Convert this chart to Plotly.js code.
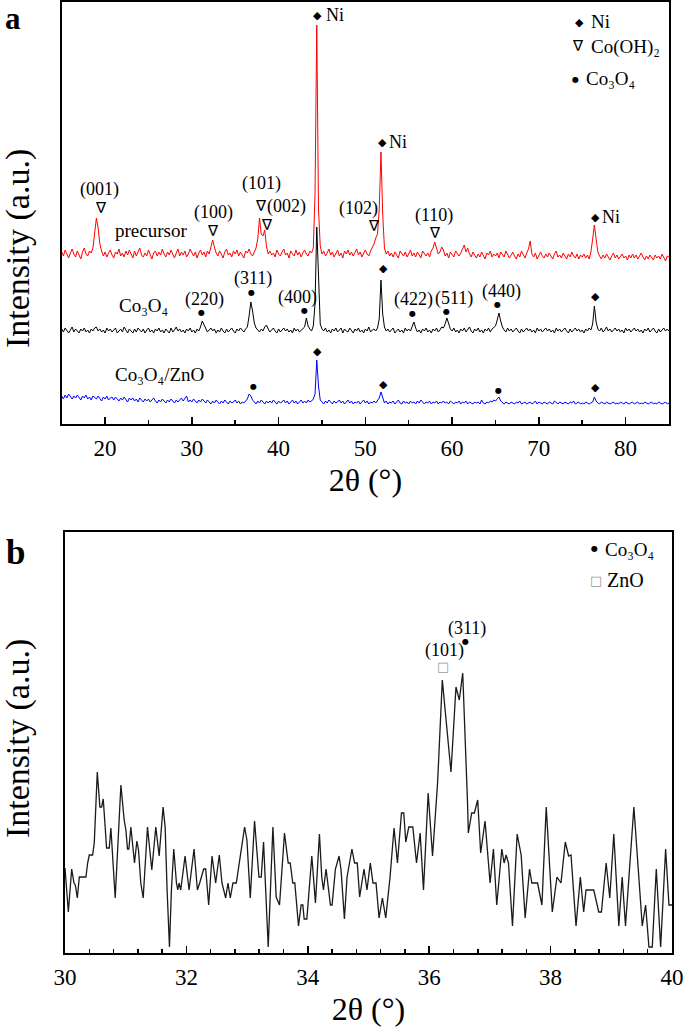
<!DOCTYPE html>
<html>
<head>
<meta charset="utf-8">
<script src="https://cdn.plot.ly/plotly-3.0.1.min.js"></script>
<style>html,body{margin:0;padding:0;background:#fff;}#chart{width:685px;height:1030px;}</style>
</head>
<body>
<div id="chart"></div>
<script>
// ---------- Panel a: XRD scans, 2θ = 15° … 85°, step 0.2° (intensity in arbitrary units) ----------
const scanStart = 15;
const scanStep = 0.2;

const precursor = [
172,168,174,169,166,171,175,170,167,173,
169,165,172,176,170,168,173,171,176,192,
206,196,180,173,168,172,167,171,174,169,
166,172,170,175,168,171,167,173,169,174,
170,166,173,168,172,176,169,167,171,168,
174,170,165,171,173,168,172,169,175,170,
167,172,169,174,170,166,171,175,168,172,
169,173,167,170,175,171,168,172,166,171,
174,169,172,167,173,170,176,184,177,171,
168,173,170,166,172,175,169,171,167,173,
170,174,168,172,169,166,173,171,175,170,
168,172,176,185,206,190,188,194,178,170,
173,169,171,167,174,170,168,172,175,169,
171,166,173,170,168,174,169,172,167,171,
174,170,168,173,171,176,230,399,215,178,
170,173,168,171,175,169,172,167,170,174,
168,171,166,173,170,174,169,172,168,171,
175,169,172,167,171,174,170,168,173,176,
180,186,190,215,272,210,176,170,173,168,
171,167,172,169,166,173,170,168,172,167,
170,174,168,171,167,172,169,166,173,170,
168,171,167,173,176,182,177,170,172,177,
174,168,171,166,172,169,167,173,170,168,
171,175,179,172,176,170,167,172,169,166,
170,167,172,168,165,171,169,173,167,170,
168,171,166,172,169,167,173,170,166,169,
172,168,165,170,167,173,169,166,171,175,
183,170,167,171,165,169,172,168,166,170,
167,171,168,165,170,173,167,169,166,171,
168,165,170,167,172,168,166,170,165,169,
167,170,166,169,165,172,185,199,185,172,
168,165,169,166,170,167,164,168,171,166,
169,165,167,170,166,168,164,169,166,170,
166,169,165,168,171,167,164,168,165,169,
167,164,169,166,168,165,170,166,163,168,
167];

const co3o4 = [
95,92,96,93,91,94,97,92,95,93,
91,95,93,96,92,94,91,95,93,96,
97,93,95,92,94,91,96,93,95,92,
94,96,91,93,95,92,97,94,91,95,
93,91,95,92,96,94,92,95,91,94,
96,92,94,91,95,93,96,92,94,91,
95,93,91,96,92,94,97,93,95,92,
94,91,95,93,96,92,94,91,95,93,
97,103,99,95,92,94,96,93,95,91,
94,92,96,93,91,95,92,94,96,93,
91,95,93,96,94,92,95,97,108,122,
113,101,96,94,92,95,93,97,99,95,
92,94,96,93,91,95,92,94,96,93,
95,92,94,91,96,93,95,92,94,96,
97,106,98,95,93,98,120,197,140,100,
95,93,96,92,94,91,95,93,96,92,
94,96,91,95,93,92,96,94,91,95,
93,96,92,94,91,95,93,97,92,94,
95,93,96,105,144,110,97,93,95,92,
94,96,91,93,95,92,94,91,96,93,
95,93,97,102,96,92,94,91,95,93,
96,92,94,91,95,93,96,92,94,97,
96,100,106,100,95,93,96,92,94,91,
95,93,96,92,94,97,93,91,95,93,
96,92,94,91,95,93,96,92,95,97,
98,104,111,103,97,94,92,96,93,95,
92,94,96,93,91,95,92,94,96,93,
95,92,94,91,96,93,95,92,94,96,
93,95,92,94,91,96,93,95,92,94,
96,93,91,95,92,94,96,93,95,92,
94,91,95,93,96,94,100,118,102,95,
93,96,92,94,97,93,95,92,94,96,
93,95,92,94,91,96,93,95,92,94,
96,93,95,92,94,91,95,93,96,92,
94,96,93,91,95,92,94,96,93,95,
93];

const co3o4Zno = [
28,25,29,26,30,27,25,28,26,29,
27,24,28,26,29,25,27,24,28,26,
25,28,26,23,27,25,28,24,26,27,
24,27,25,23,26,24,27,25,22,26,
24,26,23,25,22,26,24,22,25,23,
25,22,24,26,23,21,24,22,25,23,
21,24,22,25,23,21,24,22,24,26,
23,25,28,22,24,22,25,23,21,24,
22,25,23,21,24,22,20,23,21,24,
22,20,23,21,24,22,20,23,21,22,
24,21,23,20,22,21,23,25,30,28,
24,22,20,23,21,24,22,20,23,21,
23,21,24,22,20,23,21,22,24,21,
23,20,22,24,21,23,20,22,24,21,
23,21,24,22,23,25,30,64,38,24,
22,20,23,21,24,22,20,23,21,22,
24,21,23,20,22,24,21,23,20,22,
21,23,20,22,24,21,23,20,22,21,
23,21,24,26,32,25,21,23,20,22,
21,23,20,22,24,21,20,23,21,22,
20,23,21,22,20,23,21,24,22,20,
22,21,23,20,22,21,23,20,22,21,
23,21,22,20,23,21,20,22,21,23,
20,22,21,23,20,22,21,20,22,21,
22,20,24,21,20,22,21,23,22,24,
23,25,27,23,21,20,22,21,20,22,
21,20,22,21,23,20,21,22,20,21,
22,20,21,23,20,22,21,20,22,21,
20,22,21,20,23,21,20,22,21,20,
22,21,20,22,21,23,20,21,22,20,
21,20,22,21,20,21,22,27,23,21,
20,22,21,20,22,21,20,21,22,20,
21,20,22,21,20,22,21,20,21,22,
20,21,22,20,21,20,22,21,20,21,
22,20,21,20,22,21,20,21,22,20,
21];

// ---------- Panel b: Co3O4/ZnO, 30° … 40° ----------
const bTheta = [
30.000,30.055,30.110,30.148,30.170,30.203,30.236,30.345,30.373,30.400,
30.455,30.482,30.532,30.575,30.603,30.630,30.663,30.685,30.729,30.756,
30.827,30.921,30.975,31.003,31.030,31.052,31.085,31.123,31.145,31.184,
31.211,31.249,31.288,31.359,31.430,31.496,31.551,31.616,31.650,31.682,
31.721,31.753,31.792,31.836,31.858,31.879,31.907,31.978,32.044,32.126,
32.181,32.219,32.285,32.318,32.367,32.422,32.482,32.542,32.586,32.647,
32.685,32.723,32.767,32.822,32.904,32.959,32.997,33.052,33.123,33.195,
33.233,33.271,33.348,33.425,33.479,33.534,33.616,33.677,33.710,33.753,
33.786,33.847,33.890,33.918,33.940,33.984,34.066,34.126,34.192,34.230,
34.258,34.301,34.373,34.400,34.455,34.515,34.548,34.603,34.647,34.727,
34.771,34.815,34.854,34.926,34.975,35.030,35.074,35.124,35.174,35.229,
35.284,35.355,35.421,35.477,35.543,35.581,35.614,35.664,35.730,35.791,
35.851,35.906,35.983,36.055,36.138,36.216,36.359,36.441,36.496,36.552,
36.630,36.645,36.700,36.744,36.799,36.848,36.920,37.003,37.058,37.113,
37.196,37.234,37.267,37.306,37.372,37.449,37.515,37.581,37.653,37.691,
37.785,37.857,37.928,38.028,38.105,38.171,38.242,38.297,38.336,38.419,
38.490,38.545,38.584,38.711,38.793,38.837,38.915,38.975,39.041,39.124,
39.179,39.234,39.372,39.466,39.510,39.565,39.620,39.675,39.741,39.813,
39.895,39.950,40.000];
const bIntensity = [
85,41,84,70,68,55,76,76,90,98,
98,110,181,146,146,154,125,105,105,125,
55,168,133,123,104,104,126,103,90,112,
103,70,55,126,83,126,97,146,126,63,
6,63,104,70,63,70,63,97,63,104,
63,70,84,84,48,97,70,98,70,55,
70,55,70,70,104,126,113,55,132,76,
76,111,6,126,56,48,120,90,90,70,
70,27,48,48,34,34,97,50,119,76,
63,84,48,48,84,97,83,34,76,104,
90,90,56,84,63,90,70,70,35,55,
35,76,125,90,140,140,111,126,126,90,
120,63,160,97,170,273,181,266,253,280,
153,120,140,140,153,100,132,70,104,48,
104,90,98,90,27,119,98,35,84,70,
70,48,146,41,76,70,111,97,98,27,
76,41,63,63,41,41,90,55,119,27,
76,27,146,70,27,48,6,6,84,6,
104,48,48];

const serif = '"Liberation Serif", "Times New Roman", Times, serif';
const symFont = '"DejaVu Sans", sans-serif';

const traces = [
  {type:'scatter', mode:'lines', name:'Co₃O₄/ZnO', x0:scanStart, dx:scanStep, y:co3o4Zno,
   xaxis:'x', yaxis:'y', line:{color:'#0000ff', width:1}},
  {type:'scatter', mode:'lines', name:'Co₃O₄', x0:scanStart, dx:scanStep, y:co3o4,
   xaxis:'x', yaxis:'y', line:{color:'#000000', width:1}},
  {type:'scatter', mode:'lines', name:'precursor', x0:scanStart, dx:scanStep, y:precursor,
   xaxis:'x', yaxis:'y', line:{color:'#ff0000', width:1}},
  {type:'scatter', mode:'lines', name:'Co₃O₄/ZnO (b)', x:bTheta, y:bIntensity,
   xaxis:'x2', yaxis:'y2', line:{color:'#1a1a1a', width:1.3}}
];

function txt(xr, yr, x, y, text, size, anchor, color, family, boxH) {
  const a = {xref:xr, yref:yr, x:x, y:y, text:text, showarrow:false,
    xanchor:anchor || 'center', yanchor:'middle', borderpad:0,
    font:{family:family || serif, size:size, color:color || '#000'}};
  if (boxH) { a.height = boxH; a.valign = 'middle'; }
  return a;
}
const dia = (xr, yr, x, y) => txt(xr, yr, x, y, '◆', 11, 'center', '#000', symFont, 10);
const dot = (xr, yr, x, y) => txt(xr, yr, x, y, '●', 8, 'center', '#000', symFont, 8);
const nab = (xr, yr, x, y) => txt(xr, yr, x, y, '∇', 15, 'center', '#000', symFont, 13);
const sq  = (xr, yr, x, y) => txt(xr, yr, x, y, '□', 13, 'center', '#999', symFont);

const annotations = [
  // panel labels
  {xref:'paper', yref:'paper', x:13/685, y:1, text:'<b>a</b>', showarrow:false,
   xanchor:'center', yanchor:'top', borderpad:0,
   font:{family:serif, size:31, color:'#000'}},
  {xref:'paper', yref:'paper', x:15/685, y:1-552/1030, text:'<b>b</b>', showarrow:false,
   xanchor:'center', yanchor:'middle', borderpad:0, font:{family:serif, size:35, color:'#000'}},
  // y-axis titles
  {xref:'paper', yref:'paper', x:18/685, y:1-249/1030, text:'Intensity (a.u.)', textangle:-90,
   showarrow:false, xanchor:'center', yanchor:'middle', borderpad:0,
   font:{family:serif, size:34, color:'#000'}},
  {xref:'paper', yref:'paper', x:18/685, y:1-739/1030, text:'Intensity (a.u.)', textangle:-90,
   showarrow:false, xanchor:'center', yanchor:'middle', borderpad:0,
   font:{family:serif, size:34, color:'#000'}},
  // legend panel a
  dia('x','y',74.69,401.5), txt('x','y',75.87,402,'Ni',19,'left'),
  nab('x','y',74.46,378), txt('x','y',75.87,377,'Co(OH)₂',19,'left'),
  dot('x','y',74.2,344.5), txt('x','y',75.28,345,'Co₃O₄',19,'left'),
  // precursor
  dia('x','y',44.48,408.5), txt('x','y',45.3,408.5,'Ni',18,'left'),
  dia('x','y',52.03,281.5), txt('x','y',52.62,281.5,'Ni',18,'left'),
  dia('x','y',76.48,207), txt('x','y',77.12,207,'Ni',18,'left'),
  txt('x','y',19.38,234,'(001)',18), nab('x','y',19.48,216),
  txt('x','y',25.33,193,'precursor',19),
  txt('x','y',32.45,211,'(100)',18), nab('x','y',32.45,193),
  txt('x','y',38.02,240,'(101)',18), nab('x','y',37.92,218),
  txt('x','y',40.92,217,'(002)',18), nab('x','y',38.64,199.5),
  txt('x','y',49.26,215,'(102)',18), nab('x','y',50.94,198),
  txt('x','y',57.9,208,'(110)',18), nab('x','y',58.06,191),
  // Co3O4
  txt('x','y',21.53,119,'Co₃O₄',19,'left'),
  txt('x','y',31.47,125,'(220)',18), dot('x','y',31.15,112.5),
  txt('x','y',37.07,145.5,'(311)',18), dot('x','y',36.86,132),
  txt('x','y',42.22,126.5,'(400)',18), dot('x','y',43.0,113.8),
  dia('x','y',52.14,156.5),
  txt('x','y',55.5,124.5,'(422)',18), dot('x','y',55.48,111),
  txt('x','y',60.17,126,'(511)',18), dot('x','y',59.4,113.5),
  txt('x','y',65.65,133,'(440)',18), dot('x','y',65.23,120.5),
  dia('x','y',76.48,128.5),
  // Co3O4/ZnO
  txt('x','y',21.07,50,'Co₃O₄/ZnO',19,'left'),
  dot('x','y',37.09,37.8), dia('x','y',44.48,72.8), dia('x','y',52.1,40.3),
  dot('x','y',65.38,34.5), dia('x','y',76.48,37),
  // panel b
  dot('x2','y2',38.73,404.7), txt('x2','y2',38.885,404,'Co₃O₄',19,'left'),
  sq('x2','y2',38.745,373), txt('x2','y2',38.92,373.3,'ZnO',20,'left'),
  txt('x2','y2',36.618,325,'(311)',18), dot('x2','y2',36.59,312.5),
  txt('x2','y2',36.252,302.5,'(101)',18), sq('x2','y2',36.224,286.5)
];

function xAxis(domain, range, dtick, minorDtick, anchor) {
  return {domain:domain, range:range, anchor:anchor, dtick:dtick, tick0:0,
    showline:true, mirror:true, linecolor:'#000', linewidth:2,
    ticks:'inside', ticklen:7, tickwidth:1.5, tickcolor:'#000',
    minor:{dtick:minorDtick, ticks:'inside', ticklen:4, tickwidth:1.5, tickcolor:'#000', showgrid:false},
    showgrid:false, zeroline:false, ticklabelstandoff:2,
    tickfont:{family:serif, size:23, color:'#000'},
    title:{text:'2θ (°)', font:{family:serif, size:32, color:'#000'}, standoff:9}};
}
function yAxis(domain, range, anchor) {
  return {domain:domain, range:range, anchor:anchor, showline:true, mirror:true,
    linecolor:'#000', linewidth:2, ticks:'', showticklabels:false,
    showgrid:false, zeroline:false};
}

const layout = {
  width:685, height:1030,
  margin:{l:0, r:0, t:0, b:0},
  font:{family:serif, size:23, color:'#000'},
  paper_bgcolor:'#fff', plot_bgcolor:'#fff',
  showlegend:false,
  xaxis: xAxis([61.7/685, 669/685], [15, 85], 10, 5, 'y'),
  yaxis: yAxis([1-424/1030, 1-2/1030], [0, 422], 'x'),
  xaxis2: xAxis([65/685, 672/685], [30, 40], 2, 0.4, 'y2'),
  yaxis2: yAxis([1-953/1030, 1-532/1030], [0, 421], 'x2'),
  annotations: annotations
};

Plotly.newPlot('chart', traces, layout, {staticPlot:true, displayModeBar:false});
</script>
</body>
</html>
